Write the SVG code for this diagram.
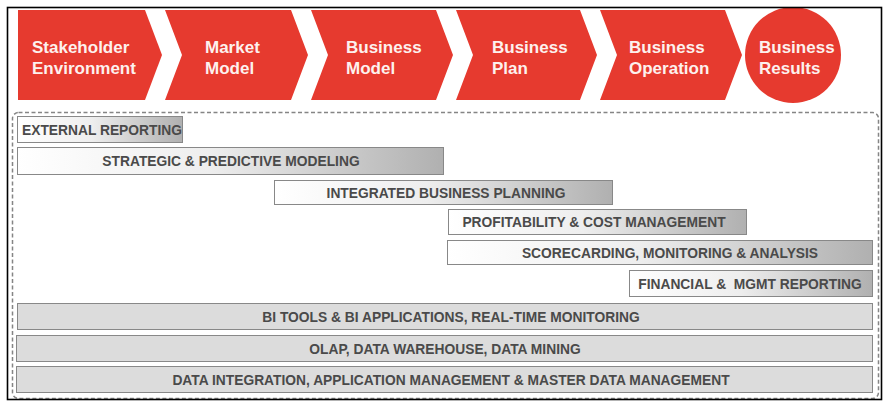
<svg xmlns="http://www.w3.org/2000/svg" width="883" height="401" viewBox="0 0 883 401">
<defs>
<linearGradient id="g" x1="0" y1="0" x2="1" y2="0">
<stop offset="0" stop-color="#ffffff"/>
<stop offset="0.45" stop-color="#eeeeee"/>
<stop offset="1" stop-color="#b0b0b0"/>
</linearGradient>
<style>
.chev{fill:#e63a2f}
.hd{font-family:"Liberation Sans",Arial,sans-serif;font-weight:bold;font-size:17px;fill:#fdf1ee}
.bar{fill:url(#g);stroke:#888888;stroke-width:1}
.base{fill:#dcdcdc;stroke:#888888;stroke-width:1}
.lb{font-family:"Liberation Sans",Arial,sans-serif;font-weight:bold;font-size:13.8px;fill:#4a4a4a}
.m{text-anchor:middle}
</style>
</defs>
<rect x="0" y="0" width="883" height="401" fill="#ffffff"/>
<g id="stakeholder-environment">
<polygon class="chev" points="18,10 145,10 162,55 145,100 18,100"/>
<text class="hd" x="32" y="53">Stakeholder</text>
<text class="hd" x="32" y="74">Environment</text>
</g>
<g id="market-model">
<polygon class="chev" points="165,10 291,10 308,55 291,100 165,100 182,55"/>
<text class="hd" x="205" y="53">Market</text>
<text class="hd" x="205" y="74">Model</text>
</g>
<g id="business-model">
<polygon class="chev" points="311,10 436,10 453,55 436,100 311,100 328,55"/>
<text class="hd" x="346" y="53">Business</text>
<text class="hd" x="346" y="74">Model</text>
</g>
<g id="business-plan">
<polygon class="chev" points="456,10 580,10 597,55 580,100 456,100 473,55"/>
<text class="hd" x="492" y="53">Business</text>
<text class="hd" x="492" y="74">Plan</text>
</g>
<g id="business-operation">
<polygon class="chev" points="600,10 725,10 742,55 725,100 600,100 617,55"/>
<text class="hd" x="629" y="53">Business</text>
<text class="hd" x="629" y="74">Operation</text>
</g>
<g id="business-results">
<circle class="chev" cx="793" cy="55" r="48"/>
<text class="hd" x="759" y="53">Business</text>
<text class="hd" x="759" y="74">Results</text>
</g>
<g id="container">
<rect x="12.5" y="112.5" width="866" height="286" rx="6" fill="none" stroke="#858585" stroke-width="1.5" stroke-dasharray="4 2.5"/>
</g>
<g id="external-reporting">
<rect class="bar" x="17.5" y="116.5" width="165" height="26"/>
<text class="lb" x="22" y="135">EXTERNAL REPORTING</text>
</g>
<g id="strategic-predictive-modeling">
<rect class="bar" x="17.5" y="147.5" width="426" height="27"/>
<text class="lb m" x="231" y="166">STRATEGIC &amp; PREDICTIVE MODELING</text>
</g>
<g id="integrated-business-planning">
<rect class="bar" x="274.5" y="180.5" width="338" height="24"/>
<text class="lb m" x="446" y="197.5">INTEGRATED BUSINESS PLANNING</text>
</g>
<g id="profitability-cost-management">
<rect class="bar" x="448.5" y="209.5" width="298" height="25"/>
<text class="lb m" x="594" y="227">PROFITABILITY &amp; COST MANAGEMENT</text>
</g>
<g id="scorecarding">
<rect class="bar" x="447.5" y="240.5" width="425" height="24"/>
<text class="lb m" x="670" y="257.5">SCORECARDING, MONITORING &amp; ANALYSIS</text>
</g>
<g id="financial-mgmt-reporting">
<rect class="bar" x="629.5" y="270.5" width="243" height="26"/>
<text class="lb m" x="750" y="288.5">FINANCIAL &amp;&#160; MGMT REPORTING</text>
</g>
<g id="bi-tools">
<rect class="base" x="17.5" y="303.5" width="855" height="26"/>
<text class="lb m" x="451" y="321.5">BI TOOLS &amp; BI APPLICATIONS, REAL-TIME MONITORING</text>
</g>
<g id="olap">
<rect class="base" x="16.5" y="335.5" width="856" height="26"/>
<text class="lb m" x="445" y="353.5">OLAP, DATA WAREHOUSE, DATA MINING</text>
</g>
<g id="data-integration">
<rect class="base" x="16.5" y="366.5" width="856" height="26"/>
<text class="lb m" x="451" y="384.5">DATA INTEGRATION, APPLICATION MANAGEMENT &amp; MASTER DATA MANAGEMENT</text>
</g>
<g id="connectors"></g>
<rect x="7.5" y="7.5" width="874" height="392" fill="none" stroke="#000000" stroke-width="1.6"/>
</svg>
